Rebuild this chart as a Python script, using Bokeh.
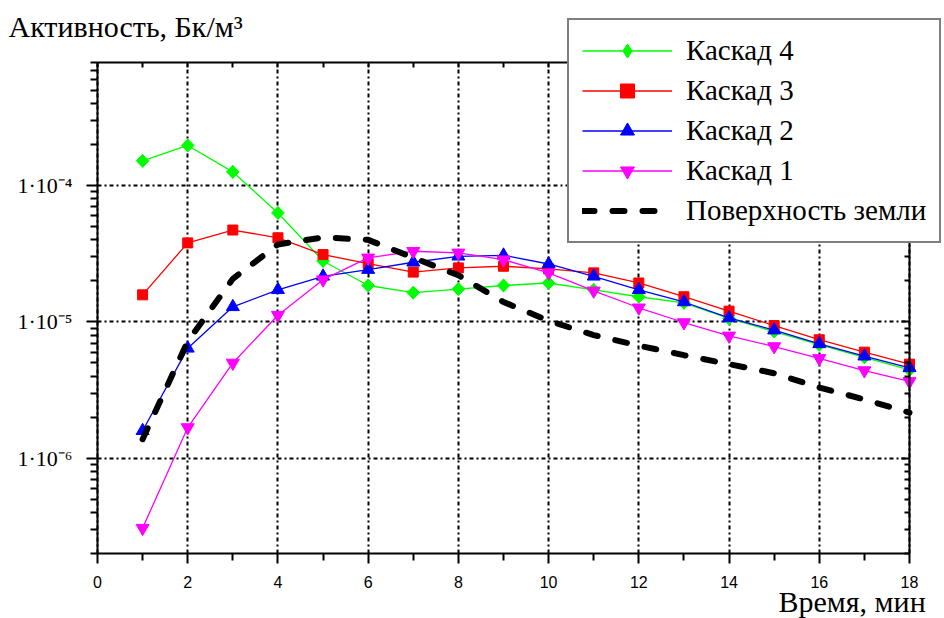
import math
from bokeh.plotting import figure
from bokeh.models import (FixedTicker, LogAxis, LinearAxis, CustomJSTickFormatter,
                          Label, Legend, LegendItem, Range1d)
from bokeh.embed import file_html
from bokeh.resources import INLINE

# ---- data ----
time_min = [1, 2, 3, 4, 5, 6, 7, 8, 9, 10, 11, 12, 13, 14, 15, 16, 17, 18]
cascade4 = [1.52e-4, 1.97e-4, 1.26e-4, 6.3e-5, 2.8e-5, 1.85e-5, 1.64e-5, 1.74e-5, 1.85e-5,
            1.93e-5, 1.72e-5, 1.53e-5, 1.38e-5, 1.06e-5, 8.5e-6, 6.8e-6, 5.5e-6, 4.45e-6]
cascade3 = [1.58e-5, 3.8e-5, 4.72e-5, 4.14e-5, 3.12e-5, 2.68e-5, 2.32e-5, 2.49e-5, 2.56e-5,
            2.45e-5, 2.29e-5, 1.93e-5, 1.53e-5, 1.2e-5, 9.4e-6, 7.4e-6, 6.0e-6, 4.9e-6]
cascade2 = [1.59e-6, 6.4e-6, 1.29e-5, 1.72e-5, 2.16e-5, 2.42e-5, 2.74e-5, 3.03e-5, 3.08e-5,
            2.66e-5, 2.16e-5, 1.72e-5, 1.40e-5, 1.07e-5, 8.7e-6, 6.9e-6, 5.6e-6, 4.6e-6]
cascade1 = [3.07e-7, 1.68e-6, 5.0e-6, 1.12e-5, 2.04e-5, 2.95e-5, 3.30e-5, 3.21e-5, 2.86e-5,
            2.29e-5, 1.69e-5, 1.27e-5, 9.9e-6, 7.9e-6, 6.6e-6, 5.4e-6, 4.4e-6, 3.66e-6]
ground = [1.38e-6, 7.2e-6, 2.07e-5, 3.7e-5, 4.17e-5, 4.0e-5, 2.96e-5, 2.2e-5, 1.40e-5,
          1.02e-5, 8.0e-6, 6.7e-6, 5.7e-6, 4.9e-6, 4.2e-6, 3.3e-6, 2.7e-6, 2.16e-6]

series_names = ["Каскад 4", "Каскад 3", "Каскад 2", "Каскад 1", "Поверхность земли"]

x_lim = (0, 18)
y_lim = (2e-7, 8e-4)
x_ticks = [0, 2, 4, 6, 8, 10, 12, 14, 16, 18]
x_minor = [1, 3, 5, 7, 9, 11, 13, 15, 17]
y_ticks = [1e-6, 1e-5, 1e-4]
y_tick_labels = ["1·10⁻⁶", "1·10⁻⁵", "1·10⁻⁴"]
y_minor = ([m * 1e-7 for m in range(2, 10)] + [m * 1e-6 for m in range(2, 10)] +
           [m * 1e-5 for m in range(2, 10)] + [m * 1e-4 for m in range(2, 9)])

y_title = "Активность, Бк/м³"
x_title = "Время, мин"

SERIF = "Liberation Serif"

# ---- layout geometry (pixels) ----
W, H = 944, 618
PX_LEFT, PX_RIGHT, PX_TOP, PX_BOTTOM = 97, 909, 62, 553

ppu = (PX_RIGHT - PX_LEFT) / (x_lim[1] - x_lim[0])
x_start = x_lim[0] - PX_LEFT / ppu
x_end = x_lim[1] + (W - PX_RIGHT) / ppu
dec = (PX_BOTTOM - PX_TOP) / math.log10(y_lim[1] / y_lim[0])
y_end = y_lim[1] * 10 ** (PX_TOP / dec)
y_start = y_lim[0] / 10 ** ((H - PX_BOTTOM) / dec)

p = figure(width=W, height=H, y_axis_type="log",
           x_range=Range1d(x_start, x_end), y_range=Range1d(y_start, y_end),
           output_backend="svg", toolbar_location=None,
           min_border=0, min_border_left=0, min_border_right=0,
           min_border_top=0, min_border_bottom=0)
p.outline_line_color = None
p.background_fill_color = "white"
p.border_fill_color = "white"
p.title.visible = False

xt = FixedTicker(ticks=x_ticks, minor_ticks=x_minor)
yt = FixedTicker(ticks=y_ticks, minor_ticks=y_minor)

# bottom axis
xa = p.xaxis[0]
xa.ticker = xt
xa.fixed_location = y_lim[0]
xa.bounds = x_lim
xa.axis_line_width = 2
xa.major_tick_line_width = 2
xa.minor_tick_line_width = 2
xa.major_tick_out = 10
xa.major_tick_in = 0
xa.minor_tick_out = 7
xa.minor_tick_in = 0
xa.major_label_standoff = 12
xa.major_label_text_font = "Liberation Sans"
xa.major_label_text_font_size = "16px"
xa.major_label_text_color = "black"

# left axis
ya = p.yaxis[0]
ya.ticker = yt
ya.fixed_location = x_lim[0]
ya.bounds = y_lim
ya.formatter = CustomJSTickFormatter(args=dict(vals=y_ticks, labs=y_tick_labels), code="""
for (let i = 0; i < vals.length; i++) {
  if (Math.abs(Math.log10(tick) - Math.log10(vals[i])) < 1e-6) return labs[i];
}
return '';
""")
ya.axis_line_width = 2
ya.major_tick_line_width = 2
ya.minor_tick_line_width = 2
ya.major_tick_out = 11
ya.major_tick_in = 0
ya.minor_tick_out = 7
ya.minor_tick_in = 0
ya.major_label_standoff = 14
ya.major_label_text_font = SERIF
ya.major_label_text_font_size = "22px"
ya.major_label_text_color = "black"

blank = CustomJSTickFormatter(code="return '';")

top = LinearAxis(ticker=xt, formatter=blank, fixed_location=y_lim[1], bounds=x_lim,
                 axis_line_width=2, major_tick_line_width=2, minor_tick_line_width=2,
                 major_tick_in=5, major_tick_out=0, minor_tick_in=5, minor_tick_out=0,
                 major_label_text_font_size="1px", major_label_standoff=0)
p.add_layout(top, "above")
right = LogAxis(ticker=yt, formatter=blank, fixed_location=x_lim[1], bounds=y_lim,
                axis_line_width=2, major_tick_line_width=2, minor_tick_line_width=2,
                major_tick_in=8, major_tick_out=0, minor_tick_in=5, minor_tick_out=0,
                major_label_text_font_size="1px", major_label_standoff=0)
p.add_layout(right, "right")

# grids
p.xgrid.ticker = xt
p.ygrid.ticker = yt
gx, gy = p.xgrid[0], p.ygrid[0]
for g in (gx, gy):
    g.grid_line_color = "black"
    g.grid_line_width = 2
    g.grid_line_dash = "4 3 2 3"
gx.bounds = x_lim
gy.bounds = y_lim
if "cross_bounds" in gx.properties():
    gx.cross_bounds = y_lim
    gy.cross_bounds = x_lim

# series
colors = ["#00ff00", "#ff0000", "#0000ff", "#ff00ff"]
markers = ["square", "square", "triangle", "inverted_triangle"]
angles = [math.pi / 4, 0, 0, 0]
msizes = [9, 10, 13, 13]
values = [cascade4, cascade3, cascade2, cascade1]

renderers = {}
for name, ys, c, m, s, a in zip(series_names[:4], values, colors, markers, msizes, angles):
    r1 = p.line(time_min, ys, line_color=c, line_width=1.3)
    if a != 0:
        # legend keys are drawn unrotated: a diamond underneath gives the key its shape
        rk = p.scatter(time_min, ys, marker="diamond", size=13, fill_color=c, line_color=c)
        p.scatter(time_min, ys, marker=m, size=s, angle=a, fill_color=c, line_color=c)
        renderers[name] = [r1, rk]
    else:
        r2 = p.scatter(time_min, ys, marker=m, size=s, fill_color=c, line_color=c)
        renderers[name] = [r1, r2]

rg = p.line(time_min, ground, line_color="black", line_width=6, line_dash="12 18",
            line_cap="round")
renderers[series_names[4]] = [rg]

legend = Legend(items=[LegendItem(label=n, renderers=renderers[n]) for n in series_names],
                location=(567, H - 243))
legend.label_text_font = SERIF
legend.label_text_font_size = "29px"
legend.label_text_color = "black"
legend.glyph_width = 90
legend.glyph_height = 35
legend.label_height = 35
legend.label_standoff = 14
legend.spacing = 5
legend.padding = 13
legend.margin = 0
legend.border_line_color = "black"
legend.border_line_width = 2
legend.background_fill_color = "white"
legend.background_fill_alpha = 1.0
p.add_layout(legend, "center")

p.add_layout(Label(x=8, y=H - 26, x_units="screen", y_units="screen", text=y_title,
                   text_font=SERIF, text_font_size="30px", text_color="black",
                   text_baseline="alphabetic"))
p.add_layout(Label(x=778, y=H - 601, x_units="screen", y_units="screen", text=x_title,
                   text_font=SERIF, text_font_size="30px", text_color="black",
                   text_baseline="alphabetic"))

open("out.html", "w", encoding="utf-8").write(file_html(p, INLINE))
